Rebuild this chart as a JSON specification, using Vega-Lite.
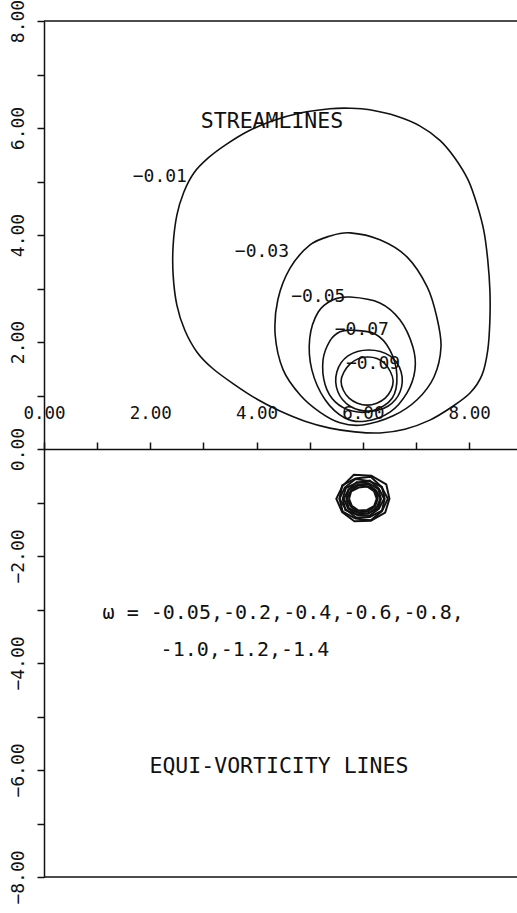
{
  "$schema": "https://vega.github.io/schema/vega-lite/v6.json",
  "width": 473,
  "height": 856,
  "autosize": {"type": "none"},
  "padding": {"left": 44, "top": 21, "right": 0, "bottom": 36},
  "background": "white",
  "config": {"view": {"stroke": null}, "font": "DejaVu Sans Mono"},
  "resolve": {"axis": {"x": "independent", "y": "independent"}},
  "datasets": {
    "streamlines": [
      {"psi": -0.01, "i": 0, "x": 5.38, "y": 6.36},
      {"psi": -0.01, "i": 1, "x": 5.76, "y": 6.37},
      {"psi": -0.01, "i": 2, "x": 6.13, "y": 6.34},
      {"psi": -0.01, "i": 3, "x": 6.64, "y": 6.22},
      {"psi": -0.01, "i": 4, "x": 7.07, "y": 6.04},
      {"psi": -0.01, "i": 5, "x": 7.45, "y": 5.77},
      {"psi": -0.01, "i": 6, "x": 7.73, "y": 5.44},
      {"psi": -0.01, "i": 7, "x": 7.98, "y": 5.03},
      {"psi": -0.01, "i": 8, "x": 8.15, "y": 4.56},
      {"psi": -0.01, "i": 9, "x": 8.28, "y": 4.06},
      {"psi": -0.01, "i": 10, "x": 8.35, "y": 3.53},
      {"psi": -0.01, "i": 11, "x": 8.39, "y": 2.97},
      {"psi": -0.01, "i": 12, "x": 8.39, "y": 2.41},
      {"psi": -0.01, "i": 13, "x": 8.35, "y": 1.85},
      {"psi": -0.01, "i": 14, "x": 8.24, "y": 1.38},
      {"psi": -0.01, "i": 15, "x": 8.02, "y": 1.05},
      {"psi": -0.01, "i": 16, "x": 7.68, "y": 0.79},
      {"psi": -0.01, "i": 17, "x": 7.26, "y": 0.54},
      {"psi": -0.01, "i": 18, "x": 6.79, "y": 0.37},
      {"psi": -0.01, "i": 19, "x": 6.32, "y": 0.30},
      {"psi": -0.01, "i": 20, "x": 5.85, "y": 0.32},
      {"psi": -0.01, "i": 21, "x": 5.38, "y": 0.39},
      {"psi": -0.01, "i": 22, "x": 4.91, "y": 0.52},
      {"psi": -0.01, "i": 23, "x": 4.44, "y": 0.71},
      {"psi": -0.01, "i": 24, "x": 4.01, "y": 0.93},
      {"psi": -0.01, "i": 25, "x": 3.59, "y": 1.20},
      {"psi": -0.01, "i": 26, "x": 3.18, "y": 1.50},
      {"psi": -0.01, "i": 27, "x": 2.88, "y": 1.81},
      {"psi": -0.01, "i": 28, "x": 2.65, "y": 2.22},
      {"psi": -0.01, "i": 29, "x": 2.50, "y": 2.69},
      {"psi": -0.01, "i": 30, "x": 2.43, "y": 3.25},
      {"psi": -0.01, "i": 31, "x": 2.43, "y": 3.81},
      {"psi": -0.01, "i": 32, "x": 2.50, "y": 4.37},
      {"psi": -0.01, "i": 33, "x": 2.63, "y": 4.80},
      {"psi": -0.01, "i": 34, "x": 2.82, "y": 5.16},
      {"psi": -0.01, "i": 35, "x": 3.09, "y": 5.44},
      {"psi": -0.01, "i": 36, "x": 3.41, "y": 5.68},
      {"psi": -0.01, "i": 37, "x": 3.82, "y": 5.93},
      {"psi": -0.01, "i": 38, "x": 4.29, "y": 6.13},
      {"psi": -0.01, "i": 39, "x": 4.82, "y": 6.28},

      {"psi": -0.03, "i": 0, "x": 5.76, "y": 4.04},
      {"psi": -0.03, "i": 1, "x": 6.32, "y": 3.91},
      {"psi": -0.03, "i": 2, "x": 6.83, "y": 3.59},
      {"psi": -0.03, "i": 3, "x": 7.21, "y": 3.03},
      {"psi": -0.03, "i": 4, "x": 7.39, "y": 2.47},
      {"psi": -0.03, "i": 5, "x": 7.47, "y": 1.91},
      {"psi": -0.03, "i": 6, "x": 7.34, "y": 1.35},
      {"psi": -0.03, "i": 7, "x": 7.02, "y": 0.92},
      {"psi": -0.03, "i": 8, "x": 6.57, "y": 0.62},
      {"psi": -0.03, "i": 9, "x": 6.00, "y": 0.45},
      {"psi": -0.03, "i": 10, "x": 5.57, "y": 0.49},
      {"psi": -0.03, "i": 11, "x": 5.19, "y": 0.69},
      {"psi": -0.03, "i": 12, "x": 4.82, "y": 1.01},
      {"psi": -0.03, "i": 13, "x": 4.50, "y": 1.48},
      {"psi": -0.03, "i": 14, "x": 4.35, "y": 2.13},
      {"psi": -0.03, "i": 15, "x": 4.40, "y": 2.79},
      {"psi": -0.03, "i": 16, "x": 4.63, "y": 3.38},
      {"psi": -0.03, "i": 17, "x": 5.00, "y": 3.81},
      {"psi": -0.03, "i": 18, "x": 5.38, "y": 3.98},

      {"psi": -0.05, "i": 0, "x": 5.76, "y": 2.84},
      {"psi": -0.05, "i": 1, "x": 6.32, "y": 2.73},
      {"psi": -0.05, "i": 2, "x": 6.70, "y": 2.41},
      {"psi": -0.05, "i": 3, "x": 6.94, "y": 1.91},
      {"psi": -0.05, "i": 4, "x": 6.98, "y": 1.48},
      {"psi": -0.05, "i": 5, "x": 6.83, "y": 1.05},
      {"psi": -0.05, "i": 6, "x": 6.51, "y": 0.69},
      {"psi": -0.05, "i": 7, "x": 6.04, "y": 0.52},
      {"psi": -0.05, "i": 8, "x": 5.66, "y": 0.58},
      {"psi": -0.05, "i": 9, "x": 5.29, "y": 0.92},
      {"psi": -0.05, "i": 10, "x": 5.04, "y": 1.48},
      {"psi": -0.05, "i": 11, "x": 5.00, "y": 2.07},
      {"psi": -0.05, "i": 12, "x": 5.16, "y": 2.56},
      {"psi": -0.05, "i": 13, "x": 5.44, "y": 2.79},

      {"psi": -0.07, "i": 0, "x": 5.80, "y": 2.22},
      {"psi": -0.07, "i": 1, "x": 6.23, "y": 2.15},
      {"psi": -0.07, "i": 2, "x": 6.51, "y": 1.85},
      {"psi": -0.07, "i": 3, "x": 6.64, "y": 1.38},
      {"psi": -0.07, "i": 4, "x": 6.55, "y": 0.95},
      {"psi": -0.07, "i": 5, "x": 6.17, "y": 0.71},
      {"psi": -0.07, "i": 6, "x": 5.80, "y": 0.71},
      {"psi": -0.07, "i": 7, "x": 5.48, "y": 0.88},
      {"psi": -0.07, "i": 8, "x": 5.29, "y": 1.20},
      {"psi": -0.07, "i": 9, "x": 5.25, "y": 1.66},
      {"psi": -0.07, "i": 10, "x": 5.38, "y": 2.02},
      {"psi": -0.07, "i": 11, "x": 5.57, "y": 2.19},

      {"psi": -0.09, "i": 0, "x": 6.11, "y": 1.85},
      {"psi": -0.09, "i": 1, "x": 6.51, "y": 1.74},
      {"psi": -0.09, "i": 2, "x": 6.72, "y": 1.44},
      {"psi": -0.09, "i": 3, "x": 6.70, "y": 1.07},
      {"psi": -0.09, "i": 4, "x": 6.47, "y": 0.80},
      {"psi": -0.09, "i": 5, "x": 6.11, "y": 0.71},
      {"psi": -0.09, "i": 6, "x": 5.76, "y": 0.80},
      {"psi": -0.09, "i": 7, "x": 5.53, "y": 1.07},
      {"psi": -0.09, "i": 8, "x": 5.51, "y": 1.44},
      {"psi": -0.09, "i": 9, "x": 5.72, "y": 1.74},

      {"psi": -0.11, "i": 0, "x": 6.08, "y": 1.72},
      {"psi": -0.11, "i": 1, "x": 6.40, "y": 1.61},
      {"psi": -0.11, "i": 2, "x": 6.57, "y": 1.27},
      {"psi": -0.11, "i": 3, "x": 6.42, "y": 0.95},
      {"psi": -0.11, "i": 4, "x": 6.08, "y": 0.82},
      {"psi": -0.11, "i": 5, "x": 5.74, "y": 0.95},
      {"psi": -0.11, "i": 6, "x": 5.59, "y": 1.27},
      {"psi": -0.11, "i": 7, "x": 5.76, "y": 1.59}
    ],
    "vorticity": [
      {"omega": -0.05, "i": 0, "x": 6.50, "y": -0.93},
      {"omega": -0.05, "i": 1, "x": 6.44, "y": -0.66},
      {"omega": -0.05, "i": 2, "x": 6.16, "y": -0.50},
      {"omega": -0.05, "i": 3, "x": 5.83, "y": -0.48},
      {"omega": -0.05, "i": 4, "x": 5.62, "y": -0.69},
      {"omega": -0.05, "i": 5, "x": 5.50, "y": -0.93},
      {"omega": -0.05, "i": 6, "x": 5.61, "y": -1.18},
      {"omega": -0.05, "i": 7, "x": 5.84, "y": -1.35},
      {"omega": -0.05, "i": 8, "x": 6.15, "y": -1.34},
      {"omega": -0.05, "i": 9, "x": 6.42, "y": -1.19},

      {"omega": -0.2, "i": 0, "x": 6.47, "y": -0.93},
      {"omega": -0.2, "i": 1, "x": 6.35, "y": -0.71},
      {"omega": -0.2, "i": 2, "x": 6.15, "y": -0.52},
      {"omega": -0.2, "i": 3, "x": 5.86, "y": -0.55},
      {"omega": -0.2, "i": 4, "x": 5.61, "y": -0.68},
      {"omega": -0.2, "i": 5, "x": 5.56, "y": -0.93},
      {"omega": -0.2, "i": 6, "x": 5.62, "y": -1.17},
      {"omega": -0.2, "i": 7, "x": 5.86, "y": -1.30},
      {"omega": -0.2, "i": 8, "x": 6.15, "y": -1.33},
      {"omega": -0.2, "i": 9, "x": 6.36, "y": -1.16},

      {"omega": -0.4, "i": 0, "x": 6.41, "y": -0.93},
      {"omega": -0.4, "i": 1, "x": 6.36, "y": -0.71},
      {"omega": -0.4, "i": 2, "x": 6.13, "y": -0.60},
      {"omega": -0.4, "i": 3, "x": 5.86, "y": -0.56},
      {"omega": -0.4, "i": 4, "x": 5.66, "y": -0.72},
      {"omega": -0.4, "i": 5, "x": 5.56, "y": -0.93},
      {"omega": -0.4, "i": 6, "x": 5.68, "y": -1.13},
      {"omega": -0.4, "i": 7, "x": 5.87, "y": -1.28},
      {"omega": -0.4, "i": 8, "x": 6.13, "y": -1.27},
      {"omega": -0.4, "i": 9, "x": 6.36, "y": -1.15},

      {"omega": -0.6, "i": 0, "x": 6.40, "y": -0.93},
      {"omega": -0.6, "i": 1, "x": 6.30, "y": -0.74},
      {"omega": -0.6, "i": 2, "x": 6.13, "y": -0.59},
      {"omega": -0.6, "i": 3, "x": 5.89, "y": -0.63},
      {"omega": -0.6, "i": 4, "x": 5.68, "y": -0.73},
      {"omega": -0.6, "i": 5, "x": 5.62, "y": -0.93},
      {"omega": -0.6, "i": 6, "x": 5.67, "y": -1.14},
      {"omega": -0.6, "i": 7, "x": 5.89, "y": -1.23},
      {"omega": -0.6, "i": 8, "x": 6.12, "y": -1.25},
      {"omega": -0.6, "i": 9, "x": 6.30, "y": -1.12},

      {"omega": -0.8, "i": 0, "x": 6.34, "y": -0.93},
      {"omega": -0.8, "i": 1, "x": 6.29, "y": -0.75},
      {"omega": -0.8, "i": 2, "x": 6.11, "y": -0.64},
      {"omega": -0.8, "i": 3, "x": 5.88, "y": -0.62},
      {"omega": -0.8, "i": 4, "x": 5.73, "y": -0.76},
      {"omega": -0.8, "i": 5, "x": 5.64, "y": -0.93},
      {"omega": -0.8, "i": 6, "x": 5.72, "y": -1.11},
      {"omega": -0.8, "i": 7, "x": 5.89, "y": -1.23},
      {"omega": -0.8, "i": 8, "x": 6.10, "y": -1.20},
      {"omega": -0.8, "i": 9, "x": 6.29, "y": -1.11},

      {"omega": -1.0, "i": 0, "x": 6.33, "y": -0.93},
      {"omega": -1.0, "i": 1, "x": 6.25, "y": -0.78},
      {"omega": -1.0, "i": 2, "x": 6.10, "y": -0.66},
      {"omega": -1.0, "i": 3, "x": 5.90, "y": -0.67},
      {"omega": -1.0, "i": 4, "x": 5.73, "y": -0.76},
      {"omega": -1.0, "i": 5, "x": 5.69, "y": -0.93},
      {"omega": -1.0, "i": 6, "x": 5.73, "y": -1.10},
      {"omega": -1.0, "i": 7, "x": 5.90, "y": -1.19},
      {"omega": -1.0, "i": 8, "x": 6.10, "y": -1.21},
      {"omega": -1.0, "i": 9, "x": 6.26, "y": -1.09},

      {"omega": -1.2, "i": 0, "x": 6.28, "y": -0.93},
      {"omega": -1.2, "i": 1, "x": 6.24, "y": -0.78},
      {"omega": -1.2, "i": 2, "x": 6.09, "y": -0.70},
      {"omega": -1.2, "i": 3, "x": 5.91, "y": -0.68},
      {"omega": -1.2, "i": 4, "x": 5.77, "y": -0.78},
      {"omega": -1.2, "i": 5, "x": 5.70, "y": -0.93},
      {"omega": -1.2, "i": 6, "x": 5.77, "y": -1.07},
      {"omega": -1.2, "i": 7, "x": 5.91, "y": -1.18},
      {"omega": -1.2, "i": 8, "x": 6.09, "y": -1.17},
      {"omega": -1.2, "i": 9, "x": 6.23, "y": -1.07},

      {"omega": -1.4, "i": 0, "x": 6.26, "y": -0.93},
      {"omega": -1.4, "i": 1, "x": 6.21, "y": -0.79},
      {"omega": -1.4, "i": 2, "x": 6.08, "y": -0.70},
      {"omega": -1.4, "i": 3, "x": 5.92, "y": -0.72},
      {"omega": -1.4, "i": 4, "x": 5.78, "y": -0.79},
      {"omega": -1.4, "i": 5, "x": 5.74, "y": -0.93},
      {"omega": -1.4, "i": 6, "x": 5.79, "y": -1.06},
      {"omega": -1.4, "i": 7, "x": 5.92, "y": -1.15},
      {"omega": -1.4, "i": 8, "x": 6.08, "y": -1.14},
      {"omega": -1.4, "i": 9, "x": 6.21, "y": -1.07}
    ],
    "levelLabels": [
      {"psi": -0.01, "x": 2.18, "y": 5.08},
      {"psi": -0.03, "x": 4.10, "y": 3.68},
      {"psi": -0.05, "x": 5.16, "y": 2.84},
      {"psi": -0.07, "x": 5.98, "y": 2.22},
      {"psi": -0.09, "x": 6.19, "y": 1.59}
    ],
    "notes": [
      {"kind": "title", "x": 4.29, "y": 6.11, "text": "STREAMLINES"},
      {"kind": "title", "x": 4.42, "y": -5.94, "text": "EQUI-VORTICITY LINES"},
      {"kind": "omega", "x": 4.50, "y": -3.07, "text": "ω = -0.05,-0.2,-0.4,-0.6,-0.8,"},
      {"kind": "omega", "x": 3.78, "y": -3.76, "text": "-1.0,-1.2,-1.4"}
    ],
    "frame": [{"y": 8}, {"y": -8}]
  },
  "layer": [
    {
      "data": {"name": "streamlines"},
      "mark": {"type": "line", "interpolate": "cardinal-closed", "color": "#111", "strokeWidth": 1.6},
      "encoding": {
        "x": {
          "field": "x", "type": "quantitative",
          "scale": {"domain": [0, 8.9], "nice": false, "zero": false},
          "axis": {
            "orient": "top", "offset": -428, "title": null, "grid": false,
            "values": [0, 1, 2, 3, 4, 5, 6, 7, 8],
            "labelExpr": "datum.value % 2 == 0 ? format(datum.value, '.2f') : ''",
            "domainColor": "#111", "domainWidth": 1.5,
            "tickColor": "#111", "tickWidth": 1.5, "tickSize": 7,
            "labelFont": "DejaVu Sans Mono", "labelFontSize": 17.5, "labelColor": "#111",
            "labelPadding": 20, "labelFlush": false, "labelOverlap": false
          }
        },
        "y": {
          "field": "y", "type": "quantitative",
          "scale": {"domain": [-8, 8], "nice": false, "zero": false},
          "axis": {
            "orient": "left", "title": null, "grid": false,
            "values": [-8, -7, -6, -5, -4, -3, -2, -1, 0, 1, 2, 3, 4, 5, 6, 7, 8],
            "labelExpr": "datum.value % 2 == 0 ? format(datum.value, '.2f') : ''",
            "domainColor": "#111", "domainWidth": 1.5,
            "tickColor": "#111", "tickWidth": 1.5, "tickSize": 7,
            "labelAngle": -90, "labelAlign": "center", "labelBaseline": "bottom",
            "labelFont": "DejaVu Sans Mono", "labelFontSize": 18, "labelColor": "#111",
            "labelPadding": 10, "labelFlush": false, "labelOverlap": false
          }
        },
        "detail": {"field": "psi", "type": "nominal"},
        "order": {"field": "i", "type": "quantitative"}
      }
    },
    {
      "data": {"name": "frame"},
      "mark": {"type": "rule", "color": "#111", "strokeWidth": 1.5},
      "encoding": {
        "y": {"field": "y", "type": "quantitative", "axis": null}
      }
    },
    {
      "data": {"name": "vorticity"},
      "mark": {"type": "line", "interpolate": "linear-closed", "color": "#111", "strokeWidth": 2},
      "encoding": {
        "x": {"field": "x", "type": "quantitative", "axis": null},
        "y": {"field": "y", "type": "quantitative", "axis": null},
        "detail": {"field": "omega", "type": "nominal"},
        "order": {"field": "i", "type": "quantitative"}
      }
    },
    {
      "data": {"name": "levelLabels"},
      "mark": {"type": "text", "font": "DejaVu Sans Mono", "fontSize": 18, "color": "#111", "align": "center", "baseline": "middle"},
      "encoding": {
        "x": {"field": "x", "type": "quantitative", "axis": null},
        "y": {"field": "y", "type": "quantitative", "axis": null},
        "text": {"field": "psi", "type": "quantitative", "format": ".2f"}
      }
    },
    {
      "data": {"name": "notes"},
      "transform": [{"filter": "datum.kind == 'title'"}],
      "mark": {"type": "text", "font": "DejaVu Sans Mono", "fontSize": 21.5, "color": "#111", "align": "center", "baseline": "middle"},
      "encoding": {
        "x": {"field": "x", "type": "quantitative", "axis": null},
        "y": {"field": "y", "type": "quantitative", "axis": null},
        "text": {"field": "text", "type": "nominal"}
      }
    },
    {
      "data": {"name": "notes"},
      "transform": [{"filter": "datum.kind == 'omega'"}],
      "mark": {"type": "text", "font": "DejaVu Sans Mono", "fontSize": 20, "color": "#111", "align": "center", "baseline": "middle"},
      "encoding": {
        "x": {"field": "x", "type": "quantitative", "axis": null},
        "y": {"field": "y", "type": "quantitative", "axis": null},
        "text": {"field": "text", "type": "nominal"}
      }
    }
  ]
}
